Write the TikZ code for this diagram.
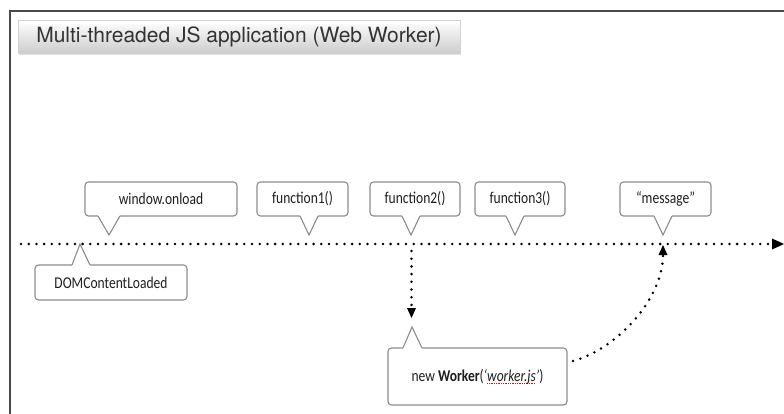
\documentclass[tikz,border=0pt]{standalone}
\usepackage{fontspec}
\setmainfont{Carlito}[FakeStretch=0.82]
\newfontfamily\titlefont{TeX Gyre Heros}
\usetikzlibrary{arrows.meta,shadows}
\definecolor{cborder}{HTML}{8C8C8C}
\definecolor{ctext}{HTML}{1E1E1E}
\definecolor{frameline}{HTML}{4A4A4A}
\newsavebox\spellbox
\newcommand\spellmark[1]{\sbox\spellbox{#1}\rlap{\textcolor{red}{\raisebox{-3pt}{\hbox to \wd\spellbox{\xleaders\hbox{\rule{1pt}{1pt}\kern0.7pt}\hfil}}}}\usebox\spellbox}
% tail pointing down: x1, ybase, x2, tipx, tipy
\newcommand\taildown[5]{%
  \fill[white] (#1,#2-1.6) -- (#1,#2) -- (#4,#5) -- (#3,#2) -- (#3,#2-1.6) -- cycle;
  \draw[tailline] (#1,#2) -- (#4,#5) -- (#3,#2);}
\newcommand\tailup[5]{%
  \fill[white] (#1,#2+1.6) -- (#1,#2) -- (#4,#5) -- (#3,#2) -- (#3,#2+1.6) -- cycle;
  \draw[tailline] (#1,#2) -- (#4,#5) -- (#3,#2);}
\begin{document}
\begin{tikzpicture}[x=1pt,y=-1pt,
  callout/.style={draw=cborder, line width=1.1pt, rounded corners=3.5pt, fill=white,
    text=ctext, inner sep=0pt, minimum height=34pt, font=\fontsize{16.5}{19}\selectfont},
  tailline/.style={draw=cborder, line width=1.1pt, line join=miter},
  dots/.style={black, line width=2.8pt, dash pattern=on 0pt off 7.7pt, line cap=round},
  bigtip/.style={-{Triangle[length=12pt,width=11pt,line width=0pt]}},
  smalltip/.style={-{Triangle[length=10pt,width=9pt,line width=0pt]}},
  titlebox/.style={minimum width=442pt, minimum height=33pt, inner sep=0pt,
    top color=white, bottom color=black!20, draw=black!18, line width=0.6pt,
    drop shadow={opacity=0.25, shadow xshift=0.6pt, shadow yshift=-1.5pt},
    text=black!80, font=\titlefont\fontsize{21}{25}\selectfont}
]
\useasboundingbox (0,0) rectangle (784,414);
\fill[white] (0,0) rectangle (784,414);
% frame
\draw[frameline, line width=2pt] (10,414) -- (10,11) -- (784,11);
% title
\node[titlebox] (title) at (239,37) {Multi-threaded JS application (Web Worker)};

% timeline
\coordinate (tls) at (21,244);
\coordinate (tle) at (784,244);
\draw[dots, bigtip] (tls) -- (tle);

% callouts above the timeline
\node[callout, minimum width=152pt] (wo) at (161,199) {window.onload};
\taildown{98}{216}{120}{109}{235}
\node[callout, minimum width=91pt] (f1) at (302.5,199) {function1()};
\taildown{300}{216}{318}{309}{235}
\node[callout, minimum width=90pt] (f2) at (415,199) {function2()};
\taildown{402}{216}{420}{411}{235}
\node[callout, minimum width=90pt] (f3) at (520,199) {function3()};
\taildown{506}{216}{524}{515}{235}
\node[callout, minimum width=91pt] (msg) at (665.5,199) {“message”};
\taildown{654}{216}{672}{663}{235}

% callout below the timeline
\node[callout, minimum width=152pt, minimum height=35pt] (dom) at (111,282.5) {DOMContentLoaded};
\tailup{72}{265}{90}{80}{244}

% worker
\node[callout, minimum width=179pt, minimum height=57pt] (wk) at (477.5,376.5)
  {new \textbf{Worker}(\textit{‘\spellmark{worker.js}’})};
\tailup{403}{348}{422}{412}{327}

% connectors
\coordinate (spawn) at (411.5,251);
\coordinate (wtip) at (411.5,318);
\draw[dots, smalltip] (spawn) -- (wtip);
\coordinate (ret) at (573,361);
\coordinate (msgpt) at (663,245);
\draw[dots, smalltip] (ret) .. controls (615,350) and (663,300) .. (msgpt);
\end{tikzpicture}
\end{document}
